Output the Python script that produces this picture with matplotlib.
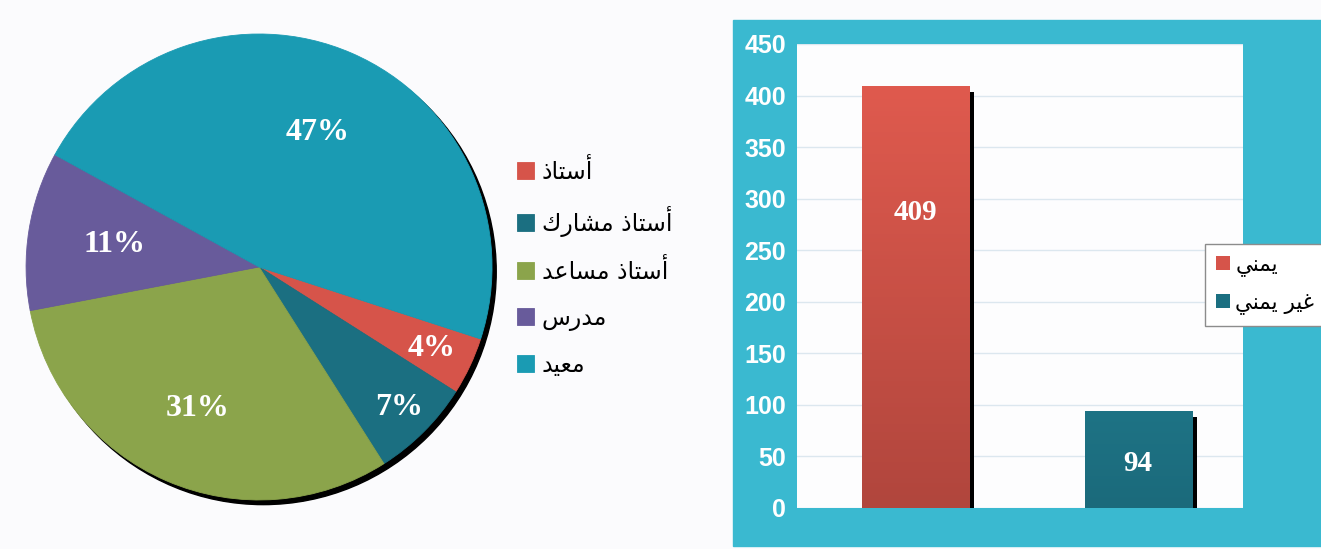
import numpy as np
import matplotlib.pyplot as plt
from matplotlib.patches import Rectangle, Circle
from matplotlib.colors import LinearSegmentedColormap

# matplotlib has no Arabic shaping, so letters are mapped to their
# presentation forms (isolated, final, initial, medial) and reversed.
FORMS = {
    'ا': ('\uFE8D', '\uFE8E', None, None),
    'أ': ('\uFE83', '\uFE84', None, None),
    'د': ('\uFEA9', '\uFEAA', None, None),
    'ذ': ('\uFEAB', '\uFEAC', None, None),
    'ر': ('\uFEAD', '\uFEAE', None, None),
    'ت': ('\uFE95', '\uFE96', '\uFE97', '\uFE98'),
    'س': ('\uFEB1', '\uFEB2', '\uFEB3', '\uFEB4'),
    'ش': ('\uFEB5', '\uFEB6', '\uFEB7', '\uFEB8'),
    'ع': ('\uFEC9', '\uFECA', '\uFECB', '\uFECC'),
    'غ': ('\uFECD', '\uFECE', '\uFECF', '\uFED0'),
    'ك': ('\uFED9', '\uFEDA', '\uFEDB', '\uFEDC'),
    'م': ('\uFEE1', '\uFEE2', '\uFEE3', '\uFEE4'),
    'ن': ('\uFEE5', '\uFEE6', '\uFEE7', '\uFEE8'),
    'ي': ('\uFEF1', '\uFEF2', '\uFEF3', '\uFEF4'),
}


def arabe(texto):
    out = []
    for i, ch in enumerate(texto):
        if ch not in FORMS:
            out.append(ch)
            continue
        prev = texto[i - 1] if i > 0 else ''
        nxt = texto[i + 1] if i + 1 < len(texto) else ''
        con_prev = prev in FORMS and FORMS[prev][2] is not None
        con_next = nxt in FORMS and FORMS[ch][2] is not None
        iso, fin, ini, med = FORMS[ch]
        if con_prev and con_next:
            out.append(med)
        elif con_prev:
            out.append(fin)
        elif con_next:
            out.append(ini)
        else:
            out.append(iso)
    return ''.join(reversed(out))


# datos
rangos = ['أستاذ', 'أستاذ مشارك', 'أستاذ مساعد', 'مدرس', 'معيد']
porcentajes = [4, 7, 31, 11, 47]
colores_pie = ['#d6544a', '#1b6f81', '#8ba44b', '#685b9b', '#1a9bb3']
dist_etiquetas = [0.82, 0.85, 0.66, 0.63, 0.63]

nacionalidad = ['يمني', 'غير يمني']
cantidad = [409, 94]
pos_etiqueta = [0.70, 0.46]

fig = plt.figure(figsize=(13.21, 5.49), dpi=100, facecolor='#fbfbfd')

# --- pastel ---
ax1 = fig.add_axes([0.0109, 0.0681, 0.3704, 0.8912])
ax1.add_patch(Circle((0.018, -0.02), 1.0, color='black', zorder=0))
wedges, _ = ax1.pie(porcentajes, colors=colores_pie, startangle=-18,
                    counterclock=False, radius=1.0)
for w, c in zip(wedges, colores_pie):
    w.set_edgecolor(c)
    w.set_linewidth(0.6)
for w, p, d in zip(wedges, porcentajes, dist_etiquetas):
    ang = np.deg2rad((w.theta1 + w.theta2) / 2)
    ax1.text(d * np.cos(ang), d * np.sin(ang), f'{p}%', color='white',
             ha='center', va='center', fontsize=23, fontweight='bold',
             family='Liberation Serif')
ax1.set_xlim(-1.05, 1.05)
ax1.set_ylim(-1.05, 1.05)
ax1.set_aspect('equal')
ax1.axis('off')

fig.legend(wedges, [arabe(r) for r in rangos], loc='upper left',
           bbox_to_anchor=(517 / 1321, 1 - 159 / 549), frameon=False,
           fontsize=17, handlelength=0.7, handleheight=0.7,
           handletextpad=0.35, labelspacing=0.93, borderpad=0, borderaxespad=0)

# --- barras ---
fig.patches.append(Rectangle((733 / 1321, 0.0055), 1 - 733 / 1321, 0.958,
                             transform=fig.transFigure, color='#3ab9d0',
                             zorder=-1))
ax2 = fig.add_axes([797 / 1321, 0.0747, 446 / 1321, 0.8452])
ax2.set_facecolor('#fdfdfe')

x = np.arange(len(cantidad))
ancho = 0.48
grad_rojo = LinearSegmentedColormap.from_list('r', ['#b1463d', '#df5a4e'])
grad_azul = LinearSegmentedColormap.from_list('a', ['#1b6a7b', '#1e7385'])
barras = []
for xi, v, cm, c in zip(x, cantidad, [grad_rojo, grad_azul], ['#d6544a', '#1b6f81']):
    ax2.bar(xi + 0.025, v - 6, ancho, color='black', zorder=2)
    b = ax2.bar(xi, v, ancho, color=c, zorder=3)
    barras.append(b[0])
    ax2.imshow(np.linspace(0, 1, 100).reshape(-1, 1), cmap=cm, origin='lower',
               extent=[xi - ancho / 2, xi + ancho / 2, 0, v], aspect='auto',
               zorder=4)
for xi, v, f in zip(x, cantidad, pos_etiqueta):
    ax2.text(xi, v * f, str(v), color='white', ha='center', va='center',
             fontsize=21, fontweight='bold', family='Liberation Serif', zorder=5)

ax2.set_xlim(-0.53, 1.47)
ax2.set_ylim(0, 450)
ax2.set_yticks(range(0, 451, 50))
ax2.set_xticks([])
ax2.tick_params(axis='y', length=0, pad=8, labelcolor='white', labelsize=18)
for t in ax2.get_yticklabels():
    t.set_fontweight('bold')
    t.set_family('Liberation Sans')
ax2.yaxis.grid(True, color='#dce7ef', linewidth=1)
ax2.set_axisbelow(True)
for s in ax2.spines.values():
    s.set_visible(False)

leg = ax2.legend(barras, [arabe(n) for n in nacionalidad], loc='upper left',
                 bbox_to_anchor=(1205 / 1321, 1 - 244 / 549),
                 bbox_transform=fig.transFigure, fontsize=15.5, fancybox=False,
                 edgecolor='#8c8c8c', framealpha=1, borderaxespad=0,
                 handlelength=0.65, handleheight=0.65, handletextpad=0.25,
                 labelspacing=0.75, borderpad=0.5)
leg.get_frame().set_linewidth(1)

fig.savefig('out.png', dpi=100, facecolor=fig.get_facecolor())
